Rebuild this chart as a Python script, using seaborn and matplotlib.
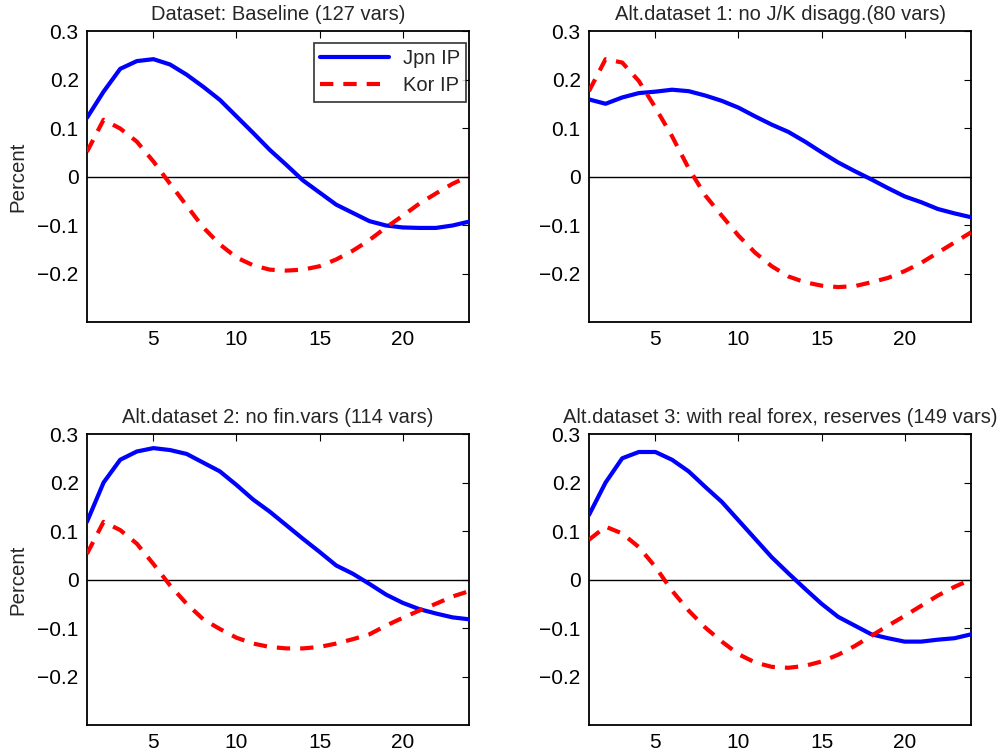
import numpy as np
import pandas as pd
import matplotlib
matplotlib.use("Agg")
import matplotlib.pyplot as plt
import seaborn as sns

horizon = list(range(1, 25))

titles = [
    "Dataset: Baseline (127 vars)",
    "Alt.dataset 1: no J/K disagg.(80 vars)",
    "Alt.dataset 2: no fin.vars (114 vars)",
    "Alt.dataset 3: with real forex, reserves (149 vars)",
]

jpn_base = [0.121, 0.175, 0.222, 0.238, 0.242, 0.231, 0.210, 0.185, 0.158, 0.124, 0.090, 0.055,
            0.024, -0.008, -0.033, -0.058, -0.075, -0.092, -0.101, -0.105, -0.106, -0.106, -0.101, -0.093]
kor_base = [0.051, 0.117, 0.099, 0.072, 0.031, -0.015, -0.060, -0.105, -0.140, -0.167, -0.183, -0.192,
            -0.194, -0.192, -0.185, -0.171, -0.153, -0.131, -0.105, -0.081, -0.056, -0.035, -0.015, 0.001]

jpn_alt1 = [0.159, 0.150, 0.163, 0.172, 0.175, 0.179, 0.176, 0.167, 0.156, 0.142, 0.124, 0.107,
            0.092, 0.072, 0.050, 0.029, 0.011, -0.006, -0.024, -0.041, -0.053, -0.067, -0.076, -0.084]
kor_alt1 = [0.176, 0.242, 0.235, 0.197, 0.142, 0.083, 0.017, -0.039, -0.081, -0.122, -0.157, -0.185,
            -0.206, -0.218, -0.225, -0.228, -0.226, -0.218, -0.209, -0.195, -0.178, -0.157, -0.136, -0.115]

jpn_alt2 = [0.119, 0.200, 0.247, 0.264, 0.271, 0.267, 0.259, 0.241, 0.223, 0.195, 0.165, 0.140,
            0.112, 0.084, 0.057, 0.029, 0.012, -0.009, -0.031, -0.048, -0.061, -0.070, -0.078, -0.082]
kor_alt2 = [0.053, 0.119, 0.102, 0.074, 0.032, -0.012, -0.050, -0.082, -0.102, -0.120, -0.132, -0.139,
            -0.142, -0.142, -0.139, -0.132, -0.123, -0.113, -0.095, -0.079, -0.064, -0.050, -0.035, -0.024]

jpn_alt3 = [0.133, 0.200, 0.250, 0.263, 0.263, 0.247, 0.223, 0.191, 0.160, 0.122, 0.084, 0.046,
            0.013, -0.019, -0.050, -0.077, -0.095, -0.113, -0.121, -0.128, -0.128, -0.124, -0.121, -0.113]
kor_alt3 = [0.082, 0.109, 0.095, 0.067, 0.026, -0.023, -0.064, -0.099, -0.128, -0.154, -0.171, -0.180,
            -0.182, -0.178, -0.169, -0.155, -0.137, -0.116, -0.095, -0.075, -0.054, -0.033, -0.015, 0.000]

series_names = ["Jpn IP", "Kor IP"]
jpn_all = [jpn_base, jpn_alt1, jpn_alt2, jpn_alt3]
kor_all = [kor_base, kor_alt1, kor_alt2, kor_alt3]

xticks = [5, 10, 15, 20]
yticks = [-0.2, -0.1, 0, 0.1, 0.2, 0.3]
ytick_labels = ["\u22120.2", "\u22120.1", "0", "0.1", "0.2", "0.3"]

sns.set_style("white")
plt.rcParams["font.family"] = ["Liberation Sans", "DejaVu Sans"]

fig = plt.figure(figsize=(10.03, 7.55), dpi=100)
positions = [
    (0.0867, 0.5735, 0.381, 0.3854),
    (0.5872, 0.5735, 0.381, 0.3854),
    (0.0867, 0.0397, 0.381, 0.3854),
    (0.5872, 0.0397, 0.381, 0.3854),
]

palette = {"Jpn IP": "#0000ff", "Kor IP": "#ff0000"}
dashes = {"Jpn IP": "", "Kor IP": (3.2, 2.4)}

for i in range(4):
    ax = fig.add_axes(positions[i])
    df = pd.DataFrame({
        "horizon": horizon * 2,
        "value": jpn_all[i] + kor_all[i],
        "series": [series_names[0]] * 24 + [series_names[1]] * 24,
    })
    ax.axhline(0, color="black", lw=1.0, zorder=1)
    sns.lineplot(data=df, x="horizon", y="value", hue="series", style="series",
                 palette=palette, dashes=dashes, linewidth=3.0, ax=ax,
                 legend=(i == 0), zorder=3)
    ax.set_xlim(1, 24)
    ax.set_ylim(-0.3, 0.3)
    ax.set_xticks(xticks)
    ax.set_xticklabels([str(t) for t in xticks])
    ax.set_yticks(yticks)
    ax.set_yticklabels(ytick_labels)
    ax.tick_params(direction="in", length=5, width=0.8, top=True, right=True,
                   labelsize=15, colors="black", pad=6)
    for sp in ax.spines.values():
        sp.set_visible(True)
        sp.set_color("black")
        sp.set_linewidth(1.3)
    ax.set_xlabel("")
    if i % 2 == 0:
        ax.set_ylabel("Percent", fontsize=14.7, labelpad=7)
    else:
        ax.set_ylabel("")
    ax.set_title(titles[i], fontsize=14.5, pad=8)
    if i == 0:
        leg = ax.legend(loc="upper right", fontsize=14.5, frameon=True, fancybox=False,
                        edgecolor="black", handlelength=3.4, borderpad=0.3,
                        borderaxespad=0.0,
                        bbox_to_anchor=(0.992, 0.959), labelspacing=0.42, handletextpad=0.7)
        leg.get_frame().set_linewidth(1.2)

fig.savefig("out.png", dpi=100, facecolor="white")
